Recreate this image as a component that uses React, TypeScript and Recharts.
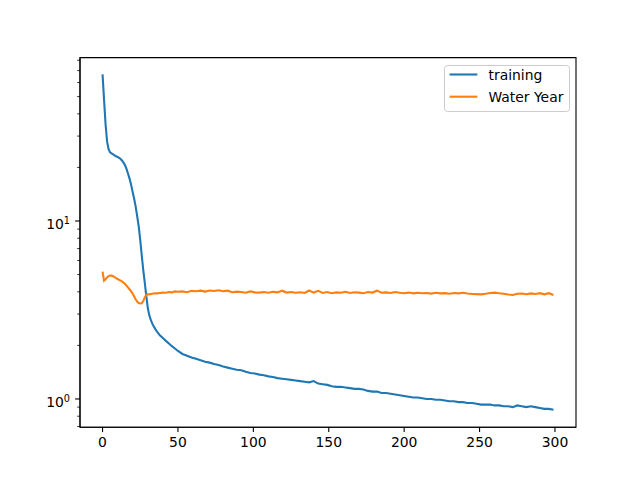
import { LineChart, Line, XAxis, YAxis, Legend, ReferenceArea } from "recharts";

// epochs (dense where the curves bend)
const epochs = [
  0, 1, 2, 3, 4, 5, 6, 7, 8, 9, 10, 11, 12, 13, 14, 15, 16, 17, 18, 19, 20, 21, 22, 23, 24, 25, 26, 27, 28, 29, 30, 31, 32, 33, 34, 35, 36,
  38, 40, 42, 44, 46, 48, 50,
  53, 56, 59, 62, 65, 68, 71, 74, 77, 80,
  83, 86, 89, 92, 95, 98, 101, 104, 107, 110,
  113, 116, 119, 122, 125, 128, 131, 134, 137, 140,
  143, 146, 149, 152, 155, 158, 161, 164, 167, 170,
  173, 176, 179, 182, 185, 188, 191, 194, 197, 200,
  203, 206, 209, 212, 215, 218, 221, 224, 227, 230,
  233, 236, 239, 242, 245, 248, 251, 254, 257, 260,
  263, 266, 269, 272, 275, 278, 281, 284, 287, 290,
  293, 296, 299,
];

const training = [
  66.6, 48, 35, 28, 25.3, 24.3, 24.0, 23.7, 23.4, 23.1, 22.9, 22.6, 22.3, 21.8, 21.2, 20.5, 19.5, 18.3, 17.2, 15.9, 14.5, 13.3, 12.0, 10.6, 9.3, 7.8, 6.4, 5.3, 4.5, 3.8, 3.25, 2.95, 2.78, 2.65, 2.55, 2.47, 2.40,
  2.28, 2.2, 2.12, 2.05, 1.98, 1.92, 1.86,
  1.79, 1.75, 1.71, 1.68, 1.65, 1.62, 1.6, 1.57, 1.55, 1.52,
  1.5, 1.48, 1.46, 1.45, 1.42, 1.4, 1.39, 1.37, 1.36, 1.34,
  1.33, 1.31, 1.3, 1.29, 1.28, 1.27, 1.26, 1.25, 1.24, 1.26,
  1.22, 1.21, 1.2, 1.18, 1.17, 1.17, 1.16, 1.15, 1.14, 1.14,
  1.13, 1.11, 1.1, 1.1, 1.08, 1.08, 1.07, 1.06, 1.05, 1.04,
  1.03, 1.02, 1.02, 1.01, 1.0, 1.0, 0.99, 0.99, 0.98, 0.97,
  0.97, 0.96, 0.96, 0.95, 0.95, 0.94, 0.93, 0.93, 0.93, 0.92,
  0.92, 0.91, 0.91, 0.9, 0.92, 0.91, 0.9, 0.91, 0.9, 0.89,
  0.88, 0.88, 0.87,
];

const waterYear = [
  5.19, 4.62, 4.7, 4.82, 4.9, 4.94, 4.93, 4.9, 4.84, 4.78, 4.72, 4.67, 4.62, 4.56, 4.5, 4.42, 4.32, 4.22, 4.12, 4.02, 3.9, 3.76, 3.62, 3.52, 3.46, 3.44, 3.45, 3.55, 3.72, 3.84, 3.87, 3.88, 3.89, 3.9, 3.91, 3.92, 3.92,
  3.94, 3.96, 3.95, 3.99, 3.97, 4.02, 4.0,
  4.02, 3.98, 4.05, 4.03, 4.06, 4.01, 4.07, 4.04, 4.08, 4.03,
  4.06, 3.98, 4.01, 3.99, 3.95, 4.02, 3.97, 3.96, 3.99, 3.95,
  4.0, 3.97, 4.06, 3.96, 3.99, 3.95, 3.98, 3.94, 4.07, 3.96,
  4.05, 3.94, 3.99, 3.93, 3.97, 3.95, 4.0, 3.94, 3.98, 3.96,
  3.93, 3.99, 3.96, 4.06, 3.95, 3.97, 3.94, 3.99, 3.95, 3.93,
  3.96, 3.92, 3.95, 3.93, 3.94, 3.91, 3.95, 3.92, 3.93, 3.9,
  3.94, 3.92, 3.95, 3.91, 3.89, 3.88, 3.87, 3.9, 3.94, 3.96,
  3.93, 3.9, 3.86, 3.84, 3.9, 3.91, 3.88, 3.92, 3.89, 3.93,
  3.87, 3.93, 3.84,
];

const xTicks = [0, 50, 100, 150, 200, 250, 300];
const yTicks = [0.7, 0.8, 0.9, 1, 2, 3, 4, 5, 6, 7, 8, 9, 10, 20, 30, 40, 50, 60, 70, 80];
const yMajor: Record<number, string> = { 1: "0", 10: "1" };
const xDomain = [-14.95, 313.95];
const yDomain = [0.694, 82.8];

const legendItems = [
  { label: "training", color: "#1f77b4" },
  { label: "Water Year", color: "#ff7f0e" },
];

const data = epochs.map((epoch, i) => ({
  epoch,
  training: training[i],
  waterYear: waterYear[i],
}));

const FONT = "DejaVu Sans";

function LogTick(props: any) {
  const { x, y, payload } = props;
  const exp = yMajor[payload.value];
  const major = exp !== undefined;
  return (
    <g>
      <line
        x1={x}
        x2={x - (major ? 4.9 : 2.8)}
        y1={y}
        y2={y}
        stroke="#000"
        strokeWidth={major ? 1.1 : 0.8}
      />
      {major && (
        <text x={x - 10} y={y + 7.6} textAnchor="end" fontFamily={FONT} fontSize={13.9} fill="#000">
          10
          <tspan dy={-4.5} fontSize={9.7}>
            {exp}
          </tspan>
        </text>
      )}
    </g>
  );
}

function LegendBox() {
  return (
    <svg width={127} height={48} style={{ display: "block" }}>
      <rect x={0.5} y={0.5} width={125} height={46} rx={3} fill="#fff" fillOpacity={0.8} stroke="#cccccc" />
      {legendItems.map((item, i) => (
        <g key={item.label}>
          <line x1={5.6} x2={33.4} y1={9.5 + i * 22.2} y2={9.5 + i * 22.2} stroke={item.color} strokeWidth={2.1} />
          <text x={44.5} y={14.5 + i * 22.2} fontFamily={FONT} fontSize={13.9} fill="#000">
            {item.label}
          </text>
        </g>
      ))}
    </svg>
  );
}

export default function App() {
  return (
    <div style={{ position: "absolute", left: 0, top: 0, width: 640, height: 480, background: "#fff" }}>
      <LineChart width={640} height={480} data={data} margin={{ top: 57.6, right: 64, bottom: 0, left: 0 }}>
        <XAxis
          dataKey="epoch"
          type="number"
          domain={xDomain}
          ticks={xTicks}
          interval={0}
          allowDataOverflow
          height={52.8}
          tickSize={4.9}
          tickMargin={4.9}
          axisLine={{ stroke: "#000", strokeWidth: 1.1 }}
          tickLine={{ stroke: "#000", strokeWidth: 1.1 }}
          tick={{ fill: "#000", fontSize: 13.9, fontFamily: FONT }}
        />
        <YAxis
          scale="log"
          domain={yDomain}
          allowDataOverflow
          ticks={yTicks}
          interval={0}
          width={80}
          tickSize={0}
          tickMargin={0}
          tickLine={false}
          axisLine={{ stroke: "#000", strokeWidth: 1.1 }}
          tick={<LogTick />}
        />
        {/* full frame like matplotlib's four spines */}
        <ReferenceArea
          x1={xDomain[0]}
          x2={xDomain[1]}
          y1={yDomain[0]}
          y2={yDomain[1]}
          ifOverflow="visible"
          fill="none"
          stroke="#000"
          strokeWidth={1.1}
        />
        <Legend
          layout="vertical"
          align="center"
          verticalAlign="middle"
          wrapperStyle={{ left: 444, top: 65, width: 127, height: 48 }}
          content={() => <LegendBox />}
        />
        <Line
          dataKey="training"
          name="training"
          type="linear"
          stroke="#1f77b4"
          strokeWidth={2.1}
          dot={false}
          isAnimationActive={false}
        />
        <Line
          dataKey="waterYear"
          name="Water Year"
          type="linear"
          stroke="#ff7f0e"
          strokeWidth={2.1}
          dot={false}
          isAnimationActive={false}
        />
      </LineChart>
    </div>
  );
}
